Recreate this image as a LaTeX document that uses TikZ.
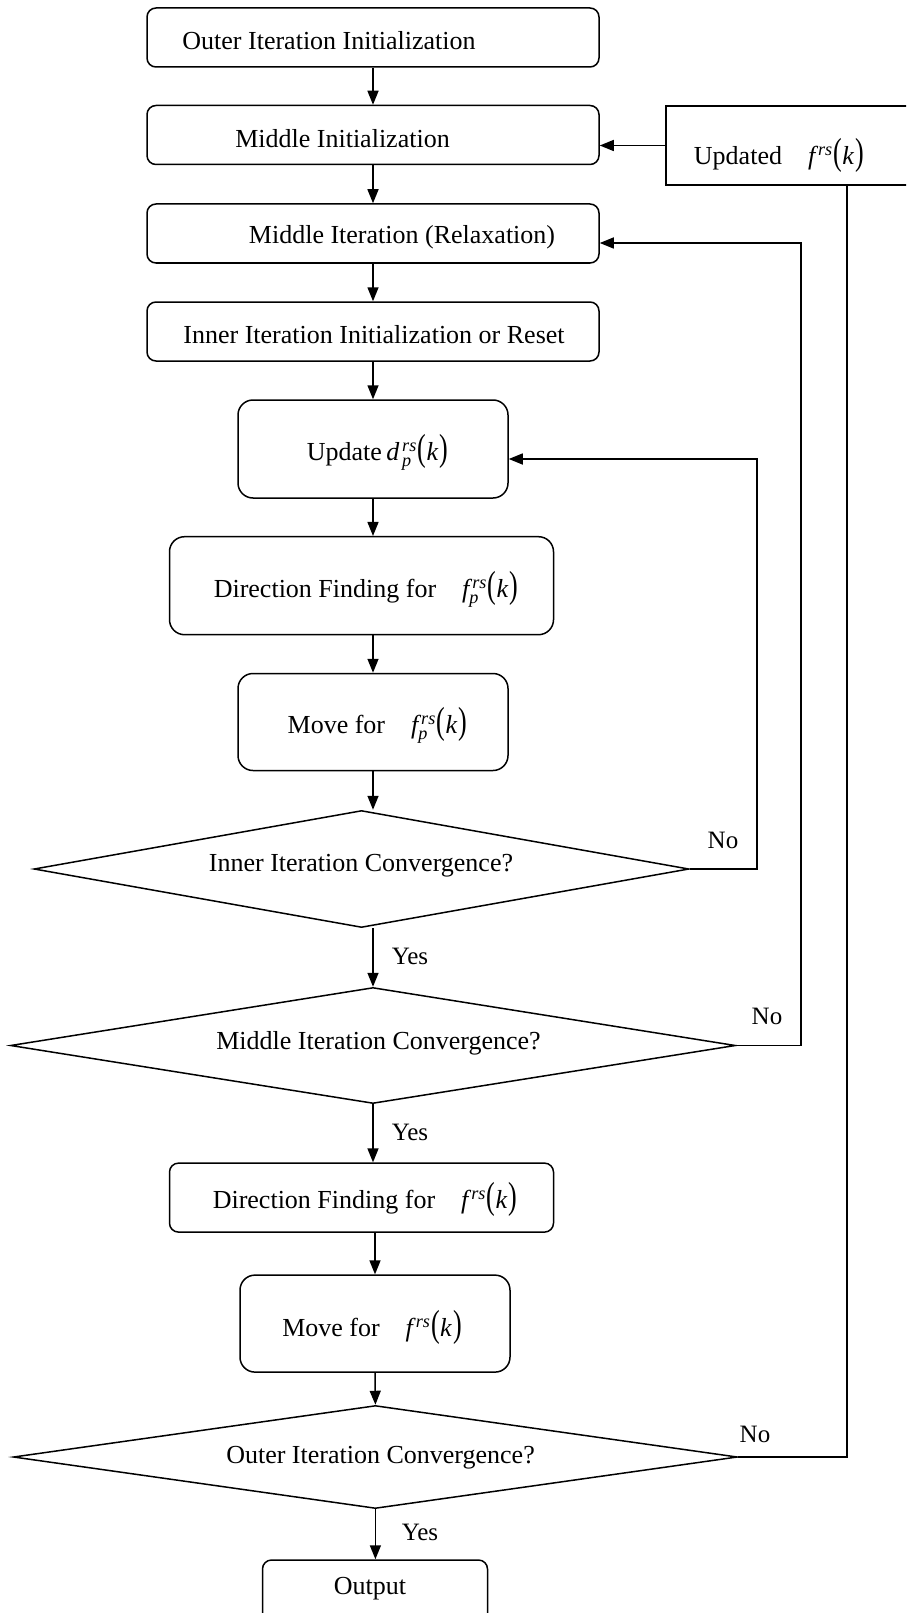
\documentclass[tikz,border=0pt]{standalone}
\usepackage{graphicx}
\usepackage{fontspec}
\setmainfont{Liberation Serif}
\usetikzlibrary{arrows.meta,shapes.geometric,calc}
\newcommand{\mf}{\mathit{f}}
\newcommand{\kk}{\kern1pt\scalebox{1}[1.45]{(}\textit{k}\kern1pt\scalebox{1}[1.45]{)}}
\begin{document}
\begin{tikzpicture}[x=1pt,y=-1pt,
  every node/.style={font=\fontsize{26}{31}\selectfont},
  rbox/.style={draw,line width=1.5pt,rounded corners=9pt,inner sep=0pt},
  tbox/.style={draw,line width=1.5pt,rounded corners=15pt,inner sep=0pt},
  dia/.style={draw,line width=1.5pt,diamond,inner sep=0pt},
  txt/.style={inner sep=0pt,anchor=center},
  lbl/.style={inner sep=0pt,anchor=center,font=\fontsize{25}{30}\selectfont},
  conn/.style={line width=1.5pt},
  arr/.style={line width=1.5pt,-{Triangle[length=14pt,width=11pt]}}]
\useasboundingbox (0,0) rectangle (906,1613);
\clip (0,0) rectangle (906,1613);
% shapes
\node[rbox,minimum width=452pt,minimum height=59pt] (b1) at (373,37.5) {};
\node[rbox,minimum width=452pt,minimum height=59pt] (b2) at (373,135) {};
\node[rbox,minimum width=452pt,minimum height=59pt] (b3) at (373,233.5) {};
\node[rbox,minimum width=452pt,minimum height=59pt] (b4) at (373,331.5) {};
\node[tbox,minimum width=270pt,minimum height=98pt] (b5) at (373,449) {};
\node[tbox,minimum width=384pt,minimum height=98pt] (b6) at (361.5,585.7) {};
\node[tbox,minimum width=270pt,minimum height=97pt] (b7) at (373,722) {};
\node[dia,minimum width=655pt,minimum height=117pt] (d1) at (361.5,869) {};
\node[dia,minimum width=725pt,minimum height=116pt] (d2) at (373,1045.5) {};
\node[rbox,minimum width=384pt,minimum height=69pt] (b8) at (361.5,1197.6) {};
\node[tbox,minimum width=270pt,minimum height=97pt] (b9) at (375,1323.6) {};
\node[dia,minimum width=724pt,minimum height=103pt] (d3) at (375.4,1457) {};
\node[rbox,minimum width=225pt,minimum height=70pt] (out) at (375,1595) {};
\node[draw,line width=1.5pt,inner sep=0pt,minimum width=294pt,minimum height=79pt] (upd) at (813,145.5) {};
% texts
\node[txt] (t1) at (329,41) {Outer Iteration Initialization};
\node[txt] (t2) at (342.5,139) {Middle Initialization};
\node[txt] (t3) at (402,237) {Middle Iteration (Relaxation)};
\node[txt] (t4) at (374,335) {Inner Iteration Initialization or Reset};
\node[txt] (t5) at (377.5,452) {Update\,$\mathit{d}^{\,\mathit{rs}}_{\,\mathit{p}}$\kk};
\node[txt] (t6) at (366,589) {Direction Finding for\quad$\mf^{\,\mathit{rs}}_{\mathit{p}}$\kk};
\node[txt] (t7) at (377.4,725) {Move for\quad$\mf^{\,\mathit{rs}}_{\mathit{p}}$\kk};
\node[txt] (t8) at (361,866) {Inner Iteration Convergence?};
\node[txt] (t9) at (378.5,1043) {Middle Iteration Convergence?};
\node[txt] (t10) at (365,1199) {Direction Finding for\quad$\mf^{\,\mathit{rs}}$\kk};
\node[txt] (t11) at (372,1327) {Move for\quad$\mf^{\,\mathit{rs}}$\kk};
\node[txt] (t12) at (380.5,1458) {Outer Iteration Convergence?};
\node[txt] (t13) at (370,1589) {Output};
\node[txt] (t14) at (779,155) {Updated\quad$\mf^{\,\mathit{rs}}$\kk};
% labels
\node[lbl] (no1) at (723,840) {No};
\node[lbl] (no2) at (767,1016) {No};
\node[lbl] (no3) at (755,1434) {No};
\node[lbl] (y1) at (410,956) {Yes};
\node[lbl] (y2) at (410,1132) {Yes};
\node[lbl] (y3) at (420,1532) {Yes};
% coordinates for loops
\coordinate (r1) at (757,459);
\coordinate (r2) at (801,243);
\coordinate (r3) at (847,185);
% connectors
\draw[arr] (b1.south) -- (b2.north);
\draw[arr] (b2.south) -- (b3.north);
\draw[arr] (b3.south) -- (b4.north);
\draw[arr] (b4.south) -- (b5.north);
\draw[arr] (b5.south) -- (b5.south |- b6.north);
\draw[arr] (b6.south -| b7.north) -- (b7.north);
\draw[arr] (b7.south) -- (b7.south |- d1.north);
\draw[arr] (b7.south |- d1.south) -- (d2.north);
\draw[arr] (d2.south) -- (d2.south |- b8.north);
\draw[arr] (b8.south -| b9.north) -- (b9.north);
\draw[arr] (b9.south) -- (d3.north);
\draw[arr] (d3.south) -- (d3.south |- out.north);
\draw[arr] (d1.east) -| (r1) -- (r1 -| b5.east);
\draw[arr] (d2.east) -| (r2) -- (r2 -| b3.east);
\draw[arr] (upd.west) -- (upd.west -| b2.east);
\draw[conn] (d3.east) -| (r3);
\end{tikzpicture}
\end{document}
